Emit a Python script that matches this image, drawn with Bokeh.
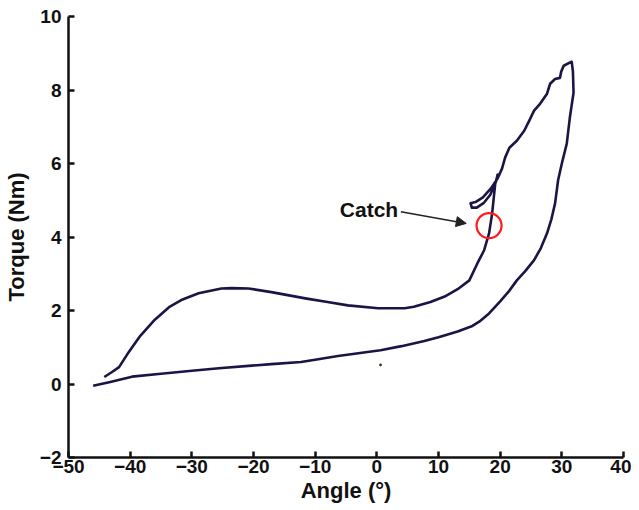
from bokeh.plotting import figure
from bokeh.models import FixedTicker, Arrow, NormalHead, Label
from bokeh.embed import file_html
from bokeh.resources import INLINE

# Rising (lower) branch: angle (deg), torque (Nm)
rise_angle = [-46.0, -43.4, -39.7, -35.0, -30.0, -25.6, -20.3, -17.1, -12.3, -10.0,
              -6.3, 0.6, 4.0, 7.7, 10.0, 13.1, 15.5, 16.8, 18.2, 20.0, 21.4, 22.7, 24.1, 25.5,
              26.6, 27.6, 28.3, 28.9, 29.4, 30.0, 30.8, 31.3, 31.9, 31.8, 31.6]
rise_torque = [-0.05, 0.05, 0.20, 0.28, 0.36, 0.43, 0.50, 0.54, 0.60, 0.66,
               0.76, 0.92, 1.03, 1.17, 1.27, 1.43, 1.58, 1.72, 1.92, 2.25, 2.52, 2.82, 3.08, 3.37,
               3.70, 4.10, 4.48, 4.91, 5.55, 6.00, 6.54, 7.25, 7.93, 8.50, 8.77]

# Returning (upper) branch incl. the catch hook
ret_angle = [31.6, 30.3, 29.9, 29.7, 28.9, 28.1, 27.6, 26.5, 25.5, 24.7, 23.9, 22.7,
             21.5, 20.8, 20.3, 19.6, 18.5, 17.2, 16.0, 15.2, 15.4, 16.2, 17.3, 18.4,
             19.3, 19.6, 19.2, 18.7, 18.2, 17.4, 16.3, 15.0, 13.1, 11.0, 8.7, 6.0,
             4.5, 0.2, -4.7, -8.0, -11.6, -17.1, -20.8, -23.5, -25.2, -28.9, -31.5,
             -33.7, -36.0, -38.5, -40.5, -41.8, -43.0, -44.2]
ret_torque = [8.77, 8.66, 8.50, 8.33, 8.30, 8.17, 7.90, 7.63, 7.44, 7.16, 6.89, 6.62,
              6.43, 6.16, 5.86, 5.60, 5.32, 5.08, 4.95, 4.92, 4.80, 4.80, 4.92, 5.15,
              5.50, 5.70, 5.45, 4.64, 4.10, 3.64, 3.28, 2.82, 2.58, 2.38, 2.23, 2.10,
              2.06, 2.06, 2.14, 2.23, 2.33, 2.50, 2.60, 2.61, 2.60, 2.47, 2.30,
              2.09, 1.75, 1.28, 0.80, 0.46, 0.32, 0.19]

# Stray point and annotation
dot_angle = [0.6]
dot_torque = [0.52]
catch_angle = [18.2]
catch_torque = [4.31]
catch_label = "Catch"

x_ticks = [-50, -40, -30, -20, -10, 0, 10, 20, 30, 40]
x_tick_labels = ["\u221250", "\u221240", "\u221230", "\u221220", "\u221210", "0", "10", "20", "30", "40"]
y_ticks = [-2, 0, 2, 4, 6, 8, 10]
y_tick_labels = ["\u22122", "0", "2", "4", "6", "8", "10"]

FONT = "Liberation Sans"
LINE = "#1c1445"

p = figure(frame_width=555, frame_height=441, x_range=(-50, 40), y_range=(-2, 10),
           output_backend="svg", toolbar_location=None,
           min_border_left=60, min_border_right=8, min_border_top=16, min_border_bottom=45)
p.outline_line_color = None
p.xgrid.visible = False
p.ygrid.visible = False
p.background_fill_color = "white"
p.border_fill_color = "white"

p.line(rise_angle + ret_angle[1:], rise_torque + ret_torque[1:], line_color=LINE,
       line_width=2.6, line_join="round")
p.scatter(dot_angle, dot_torque, size=2, color="#333333")
p.scatter(catch_angle, catch_torque, size=25, marker="circle", fill_color=None,
          line_color="#ff1a1a", line_width=2.2)

p.add_layout(Arrow(end=NormalHead(size=10, fill_color="#222222", line_color="#222222"),
                   x_start=3.9, y_start=4.69, x_end=14.5, y_end=4.37,
                   line_color="#222222", line_width=1.5))
p.add_layout(Label(x=-6.0, y=4.75, text=catch_label, text_font=FONT, text_font_style="bold",
                   text_font_size="21px", text_baseline="middle", text_color="#111111"))

for ax, ticks, labels in ((p.xaxis[0], x_ticks, x_tick_labels), (p.yaxis[0], y_ticks, y_tick_labels)):
    ax.ticker = FixedTicker(ticks=ticks)
    ax.major_label_overrides = {t: l for t, l in zip(ticks, labels)}
    ax.major_tick_in = 6
    ax.major_tick_out = 0
    ax.minor_tick_line_color = None
    ax.axis_line_width = 2.5
    ax.major_tick_line_width = 2.5
    ax.axis_line_color = "#111111"
    ax.major_tick_line_color = "#111111"
    ax.major_label_text_font = FONT
    ax.major_label_text_font_style = "bold"
    ax.major_label_text_font_size = "19px"
    ax.major_label_text_color = "#111111"
    ax.axis_label_text_font = FONT
    ax.axis_label_text_font_style = "bold"
    ax.axis_label_text_font_size = "22px"
    ax.axis_label_text_color = "#111111"

p.xaxis.axis_label = "Angle (\u00b0)"
p.yaxis.axis_label = "Torque (Nm)"
p.xaxis.major_label_standoff = 2
p.xaxis.axis_label_standoff = 2
p.yaxis.major_label_standoff = 7
p.yaxis.axis_label_standoff = 8

open("out.html", "w").write(file_html(p, INLINE))
